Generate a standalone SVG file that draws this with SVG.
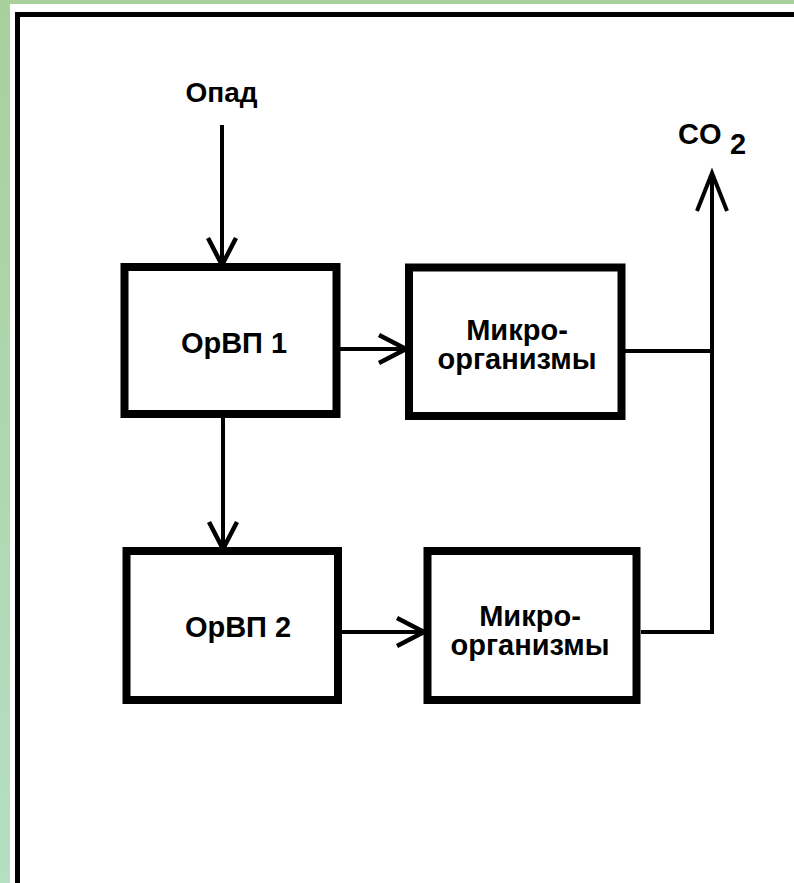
<svg xmlns="http://www.w3.org/2000/svg" width="794" height="883" viewBox="0 0 794 883">
  <defs>
    <linearGradient id="bg" x1="0" y1="0" x2="0" y2="1">
      <stop offset="0" stop-color="#a9cf9c"/>
      <stop offset="1" stop-color="#b4dfc3"/>
    </linearGradient>
    <marker id="arr" markerUnits="userSpaceOnUse" viewBox="0 0 32 34" refX="29" refY="17" markerWidth="32" markerHeight="34" orient="auto">
      <path d="M2,3 L29,17 L2,31" fill="none" stroke="#000" stroke-width="4.5"/>
    </marker>
  </defs>
  <style>
    .box { fill: #fff; stroke: #000; stroke-width: 8; }
    .lbl { font-family: "Liberation Sans", Arial, sans-serif; font-weight: bold; font-size: 29px; fill: #000; text-anchor: middle; }
    .conn { fill: none; stroke: #000; stroke-width: 4; }
  </style>

  <!-- background and frame -->
  <rect x="0" y="0" width="794" height="883" fill="url(#bg)"/>
  <rect x="10" y="4" width="784" height="879" fill="#fff"/>
  <path d="M17.5,883 L17.5,14.5 L794,14.5" fill="none" stroke="#000" stroke-width="5"/>

  <g id="nodes">
    <g id="orvp1">
      <rect class="box" x="124.5" y="267" width="212" height="147"/>
      <text class="lbl" x="234" y="353">ОрВП 1</text>
    </g>
    <g id="micro1">
      <rect class="box" x="409" y="267.5" width="212.5" height="148.5"/>
      <text class="lbl" x="517" y="340"><tspan x="517" y="340">Микро-</tspan><tspan x="517" y="369">организмы</tspan></text>
    </g>
    <g id="orvp2">
      <rect class="box" x="126.5" y="551" width="211.5" height="149"/>
      <text class="lbl" x="238" y="637">ОрВП 2</text>
    </g>
    <g id="micro2">
      <rect class="box" x="427.5" y="551" width="209" height="149"/>
      <text class="lbl" x="530" y="626"><tspan x="530" y="626">Микро-</tspan><tspan x="530" y="655">организмы</tspan></text>
    </g>
    <g id="opad">
      <text class="lbl" x="221.5" y="102" style="font-size:28px">Опад</text>
    </g>
    <g id="co2">
      <text x="678" y="144" style="font-family:'Liberation Sans',Arial,sans-serif;font-weight:bold;font-size:29px">CO</text>
      <text x="730" y="154" style="font-family:'Liberation Sans',Arial,sans-serif;font-weight:bold;font-size:29px">2</text>
    </g>
  </g>

  <g id="connectors">
    <path class="conn" d="M222,125 L222,265" marker-end="url(#arr)"/>
    <path class="conn" d="M223,418 L223,549" marker-end="url(#arr)"/>
    <path class="conn" d="M340,349 L406,349" marker-end="url(#arr)"/>
    <path class="conn" d="M342,632 L424,632" marker-end="url(#arr)"/>
    <path class="conn" d="M625,351 L712,351"/>
    <path class="conn" d="M641,632 L712,632 L712,174"/>
    <path class="conn" d="M697,211 L712,173 L727,211" stroke-width="4.5"/>
  </g>
</svg>
